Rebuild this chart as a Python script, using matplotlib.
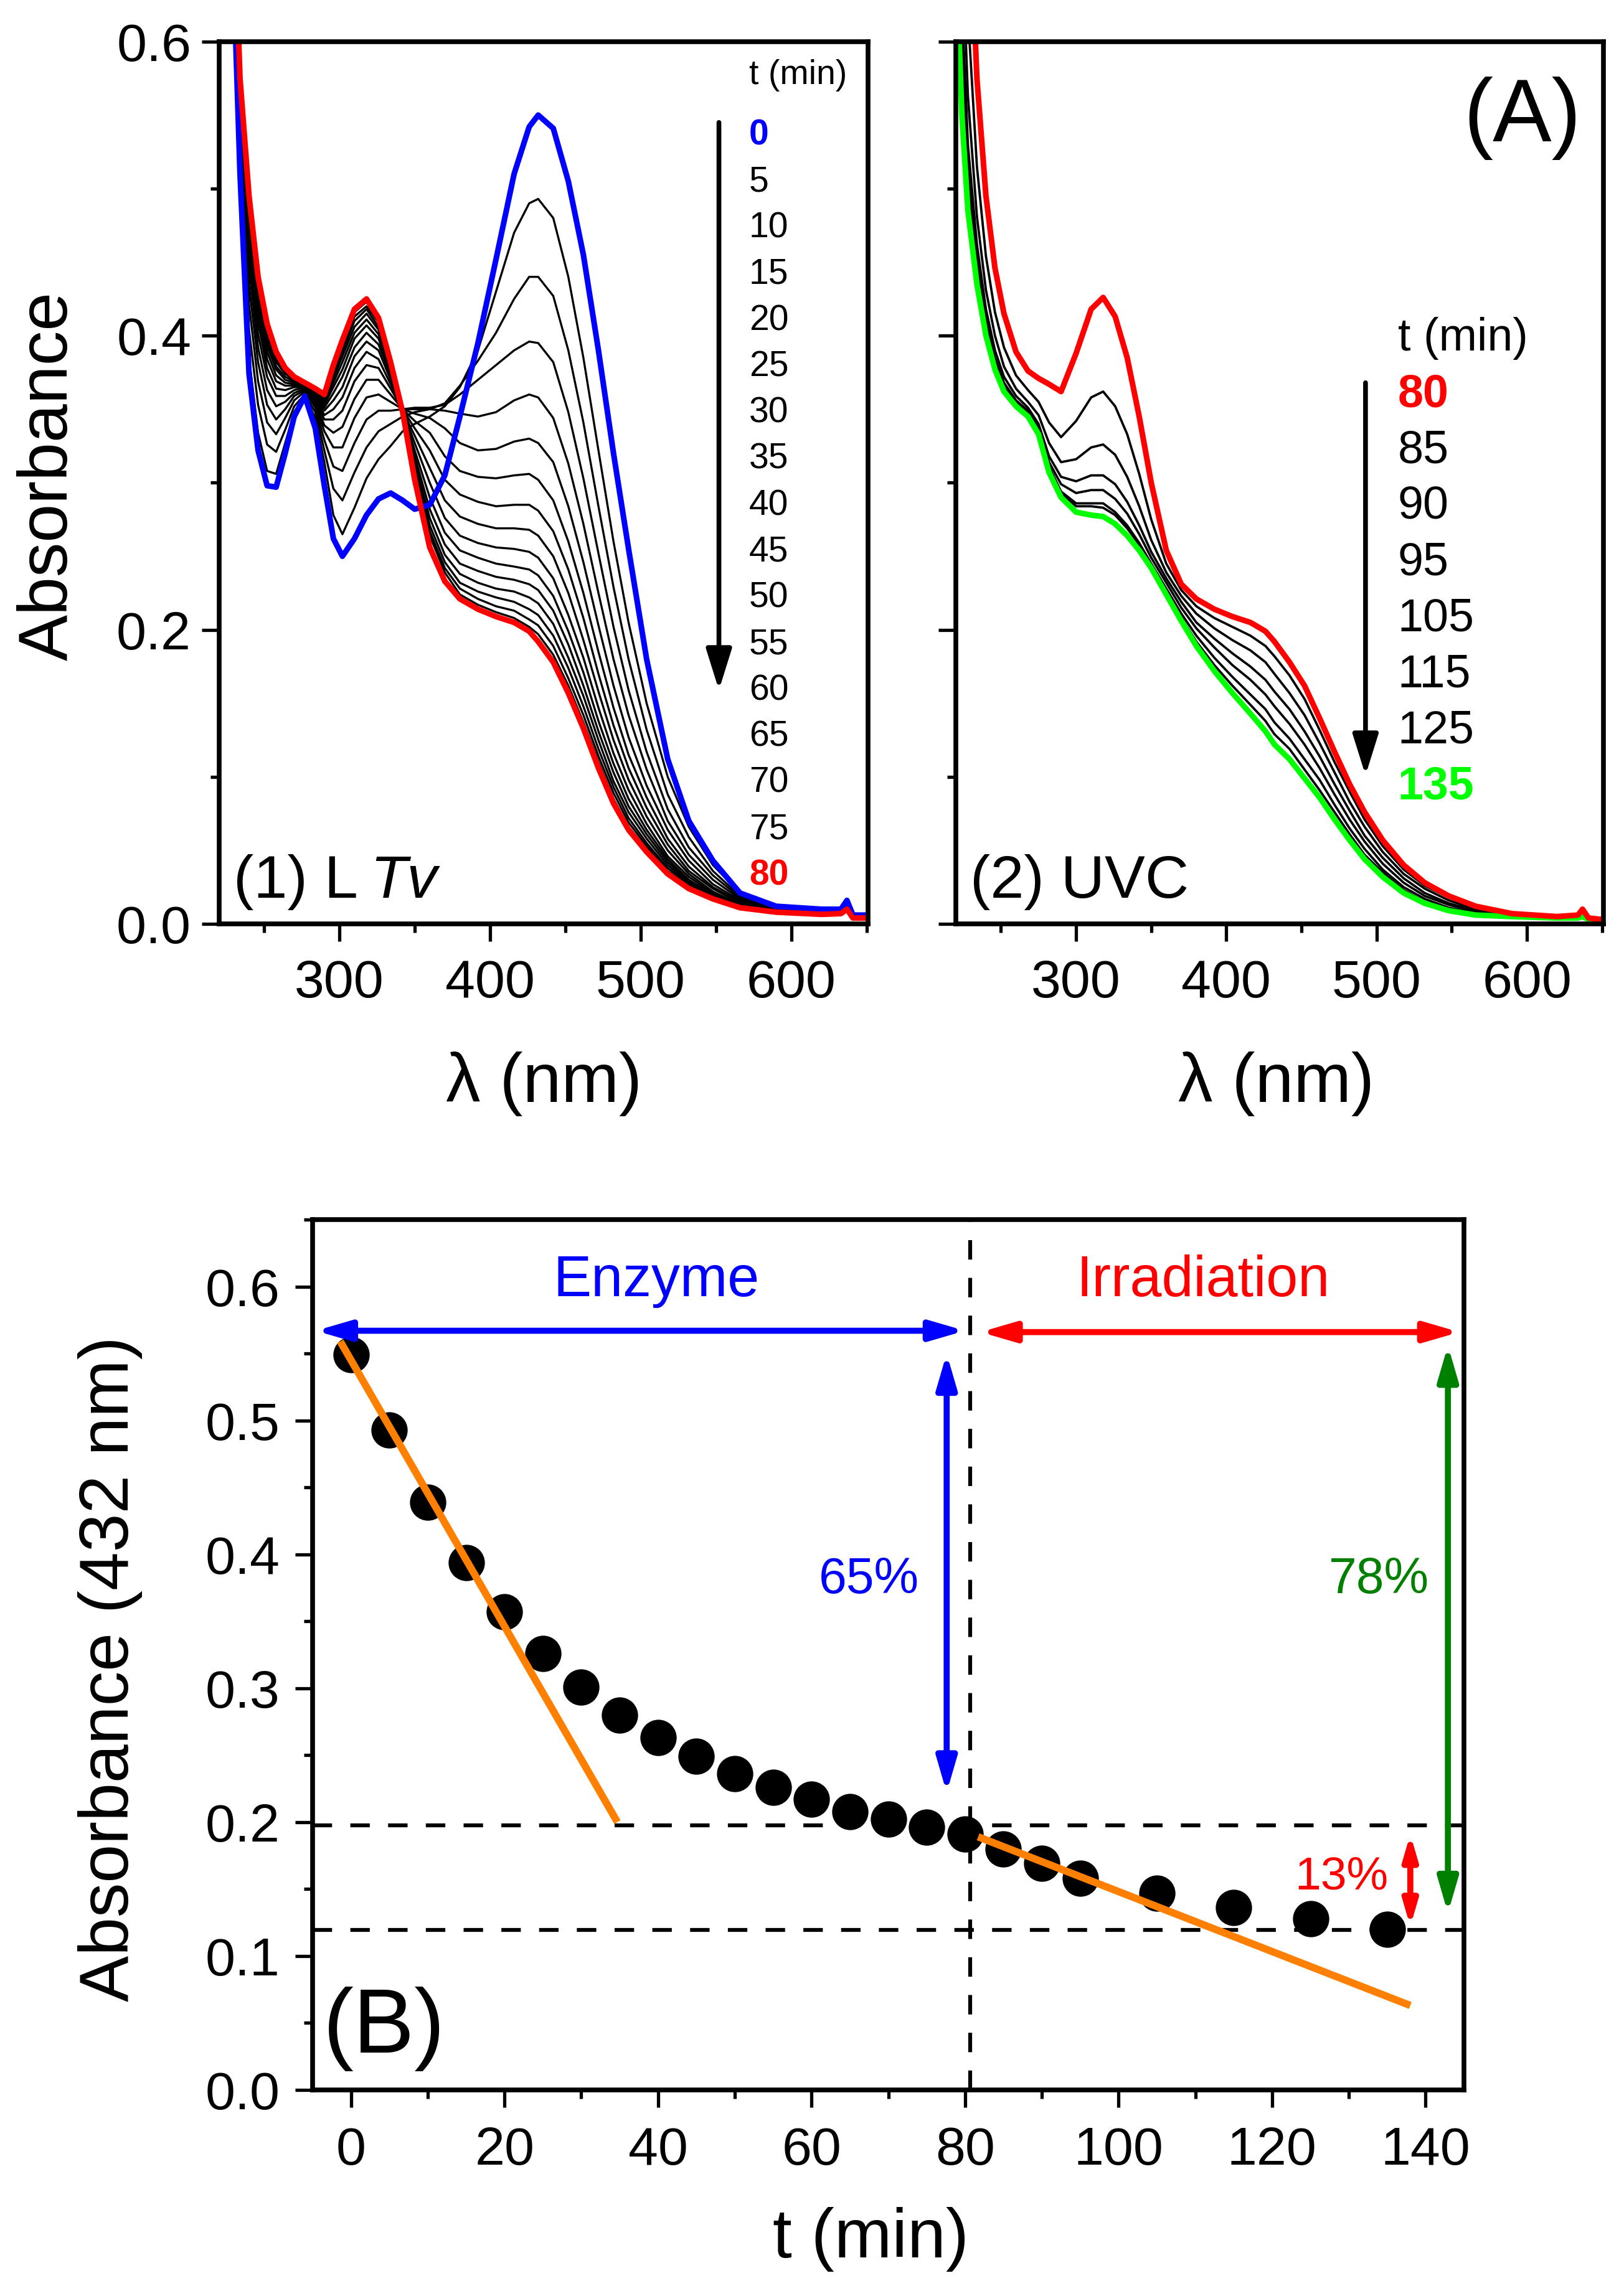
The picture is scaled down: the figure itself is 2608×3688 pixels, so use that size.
import matplotlib
matplotlib.use('Agg')
import matplotlib.pyplot as plt
from matplotlib.ticker import MultipleLocator, FormatStrFormatter

# ---------------- panel (1) LTv : spectra every 5 min, 0..80 min ----------------
wl_ltv = [228, 234, 240, 246, 252, 258, 264, 270, 277, 284, 290, 296, 302, 310, 318,
          326, 334, 342, 350, 360, 370, 380, 392, 404, 416, 426, 432, 442, 452, 462,
          472, 482, 492, 504, 518, 532, 548, 566, 590, 620, 633, 637, 641, 650]

ltv_0 = [0.70, 0.51, 0.374, 0.322, 0.298, 0.297, 0.320, 0.345, 0.359, 0.337, 0.298, 0.262,
         0.250, 0.262, 0.278, 0.289, 0.293, 0.288, 0.282, 0.285, 0.305, 0.345, 0.395, 0.452,
         0.510, 0.542, 0.550, 0.541, 0.505, 0.455, 0.390, 0.320, 0.255, 0.180, 0.112, 0.070,
         0.043, 0.021, 0.012, 0.010, 0.010, 0.016, 0.006, 0.006]
ltv_5 = [0.71, 0.52, 0.385, 0.334, 0.308, 0.306, 0.327, 0.348, 0.359, 0.344, 0.314, 0.278,
         0.265, 0.283, 0.303, 0.316, 0.325, 0.335, 0.340, 0.345, 0.352, 0.365, 0.390, 0.430,
         0.470, 0.490, 0.493, 0.480, 0.440, 0.385, 0.322, 0.260, 0.205, 0.150, 0.100, 0.066,
         0.040, 0.021, 0.012, 0.010, 0.010, 0.014, 0.006, 0.006]
ltv_10 = [0.715, 0.530, 0.404, 0.353, 0.326, 0.321, 0.336, 0.352, 0.360, 0.348, 0.322, 0.296,
          0.288, 0.307, 0.324, 0.335, 0.340, 0.345, 0.348, 0.350, 0.354, 0.366, 0.383, 0.402,
          0.425, 0.440, 0.440, 0.427, 0.390, 0.341, 0.284, 0.229, 0.180, 0.132, 0.088, 0.059,
          0.036, 0.019, 0.011, 0.0095, 0.010, 0.013, 0.005, 0.005]
ltv_15 = [0.72, 0.538, 0.421, 0.369, 0.341, 0.333, 0.344, 0.356, 0.362, 0.351, 0.329, 0.311,
          0.308, 0.327, 0.343, 0.349, 0.349, 0.350, 0.351, 0.351, 0.353, 0.360, 0.370, 0.380,
          0.390, 0.396, 0.395, 0.382, 0.348, 0.303, 0.252, 0.202, 0.159, 0.117, 0.078, 0.052,
          0.033, 0.018, 0.011, 0.009, 0.0095, 0.013, 0.005, 0.005]
ltv_20 = [0.72, 0.545, 0.434, 0.382, 0.353, 0.343, 0.350, 0.359, 0.363, 0.353, 0.335, 0.324,
          0.324, 0.344, 0.358, 0.360, 0.355, 0.350, 0.350, 0.350, 0.349, 0.347, 0.345, 0.348,
          0.356, 0.360, 0.358, 0.344, 0.313, 0.272, 0.225, 0.180, 0.142, 0.105, 0.070, 0.047,
          0.030, 0.017, 0.010, 0.0085, 0.009, 0.012, 0.005, 0.005]
ltv_25 = [0.725, 0.550, 0.446, 0.392, 0.363, 0.352, 0.355, 0.361, 0.364, 0.355, 0.339, 0.334,
          0.338, 0.357, 0.370, 0.370, 0.360, 0.350, 0.347, 0.344, 0.337, 0.327, 0.322, 0.323,
          0.328, 0.330, 0.327, 0.314, 0.284, 0.246, 0.203, 0.162, 0.127, 0.094, 0.064, 0.043,
          0.027, 0.016, 0.010, 0.008, 0.0085, 0.012, 0.005, 0.005]
ltv_30 = [0.725, 0.555, 0.455, 0.401, 0.372, 0.359, 0.359, 0.363, 0.365, 0.357, 0.343, 0.343,
          0.349, 0.369, 0.380, 0.378, 0.364, 0.350, 0.342, 0.334, 0.318, 0.308, 0.304, 0.303,
          0.305, 0.306, 0.302, 0.288, 0.260, 0.225, 0.185, 0.147, 0.115, 0.086, 0.058, 0.039,
          0.025, 0.015, 0.009, 0.008, 0.0085, 0.011, 0.005, 0.005]
ltv_35 = [0.73, 0.559, 0.462, 0.409, 0.378, 0.364, 0.363, 0.365, 0.365, 0.358, 0.346, 0.350,
          0.358, 0.378, 0.389, 0.384, 0.367, 0.350, 0.337, 0.322, 0.302, 0.292, 0.287, 0.284,
          0.285, 0.285, 0.281, 0.267, 0.241, 0.208, 0.170, 0.135, 0.106, 0.079, 0.054, 0.036,
          0.024, 0.014, 0.009, 0.0075, 0.008, 0.011, 0.005, 0.005]
ltv_40 = [0.73, 0.562, 0.469, 0.415, 0.384, 0.369, 0.366, 0.366, 0.366, 0.359, 0.349, 0.356,
          0.365, 0.386, 0.396, 0.390, 0.370, 0.349, 0.332, 0.310, 0.288, 0.277, 0.272, 0.269,
          0.269, 0.268, 0.264, 0.250, 0.225, 0.193, 0.158, 0.125, 0.098, 0.073, 0.050, 0.034,
          0.022, 0.013, 0.009, 0.0075, 0.008, 0.011, 0.005, 0.005]
ltv_45 = [0.735, 0.565, 0.474, 0.420, 0.389, 0.373, 0.368, 0.367, 0.366, 0.360, 0.351, 0.361,
          0.372, 0.392, 0.402, 0.394, 0.373, 0.349, 0.327, 0.300, 0.276, 0.264, 0.259, 0.256,
          0.255, 0.253, 0.249, 0.235, 0.210, 0.181, 0.147, 0.116, 0.091, 0.068, 0.046, 0.032,
          0.021, 0.013, 0.009, 0.007, 0.0075, 0.011, 0.005, 0.005]
ltv_50 = [0.735, 0.567, 0.479, 0.424, 0.393, 0.377, 0.370, 0.368, 0.367, 0.361, 0.353, 0.365,
          0.377, 0.398, 0.407, 0.398, 0.375, 0.349, 0.322, 0.290, 0.266, 0.254, 0.249, 0.245,
          0.243, 0.241, 0.237, 0.223, 0.199, 0.171, 0.138, 0.109, 0.085, 0.064, 0.044, 0.030,
          0.020, 0.013, 0.009, 0.007, 0.0075, 0.011, 0.005, 0.005]
ltv_55 = [0.74, 0.569, 0.482, 0.428, 0.396, 0.379, 0.372, 0.369, 0.367, 0.362, 0.355, 0.368,
          0.382, 0.402, 0.411, 0.401, 0.376, 0.349, 0.318, 0.282, 0.258, 0.245, 0.240, 0.236,
          0.234, 0.231, 0.227, 0.213, 0.190, 0.162, 0.131, 0.103, 0.080, 0.061, 0.042, 0.029,
          0.020, 0.012, 0.008, 0.007, 0.0075, 0.011, 0.005, 0.005]
ltv_60 = [0.74, 0.570, 0.486, 0.431, 0.399, 0.382, 0.374, 0.370, 0.367, 0.362, 0.356, 0.371,
          0.386, 0.406, 0.415, 0.404, 0.378, 0.349, 0.315, 0.276, 0.251, 0.238, 0.232, 0.228,
          0.226, 0.222, 0.218, 0.204, 0.181, 0.155, 0.125, 0.097, 0.076, 0.058, 0.040, 0.028,
          0.019, 0.012, 0.008, 0.007, 0.0075, 0.011, 0.005, 0.005]
ltv_65 = [0.745, 0.572, 0.488, 0.434, 0.402, 0.384, 0.375, 0.371, 0.367, 0.363, 0.357, 0.374,
          0.389, 0.410, 0.418, 0.406, 0.379, 0.349, 0.312, 0.271, 0.246, 0.232, 0.226, 0.222,
          0.219, 0.214, 0.210, 0.196, 0.174, 0.148, 0.119, 0.093, 0.072, 0.055, 0.038, 0.027,
          0.018, 0.012, 0.008, 0.0065, 0.007, 0.010, 0.005, 0.005]
ltv_70 = [0.745, 0.573, 0.491, 0.436, 0.404, 0.386, 0.376, 0.371, 0.368, 0.363, 0.358, 0.376,
          0.392, 0.413, 0.420, 0.409, 0.380, 0.348, 0.309, 0.267, 0.242, 0.228, 0.221, 0.216,
          0.213, 0.207, 0.203, 0.189, 0.167, 0.142, 0.114, 0.089, 0.069, 0.053, 0.036, 0.026,
          0.018, 0.011, 0.008, 0.0065, 0.007, 0.010, 0.004, 0.004]
ltv_75 = [0.75, 0.574, 0.493, 0.438, 0.406, 0.388, 0.377, 0.372, 0.368, 0.364, 0.359, 0.378,
          0.395, 0.416, 0.423, 0.410, 0.381, 0.348, 0.307, 0.264, 0.239, 0.224, 0.217, 0.212,
          0.208, 0.202, 0.197, 0.183, 0.162, 0.137, 0.110, 0.085, 0.066, 0.051, 0.035, 0.025,
          0.017, 0.011, 0.008, 0.0065, 0.007, 0.010, 0.004, 0.004]
ltv_80 = [0.75, 0.575, 0.495, 0.440, 0.408, 0.389, 0.378, 0.372, 0.368, 0.364, 0.360, 0.380,
          0.397, 0.418, 0.425, 0.412, 0.382, 0.348, 0.302, 0.256, 0.233, 0.221, 0.214, 0.209,
          0.205, 0.199, 0.192, 0.178, 0.157, 0.133, 0.106, 0.082, 0.064, 0.049, 0.034, 0.024,
          0.017, 0.011, 0.008, 0.0065, 0.007, 0.010, 0.004, 0.004]

ltv_mid = [ltv_5, ltv_10, ltv_15, ltv_20, ltv_25, ltv_30, ltv_35, ltv_40, ltv_45,
           ltv_50, ltv_55, ltv_60, ltv_65, ltv_70, ltv_75]
ltv_times = ['0', '5', '10', '15', '20', '25', '30', '35', '40', '45', '50', '55',
             '60', '65', '70', '75', '80']

# ---------------- panel (2) UVC : 80..135 min ----------------
wl_uvc = [220, 224, 228, 234, 240, 246, 252, 260, 268, 275, 282, 290, 300, 310, 318,
          326, 334, 342, 350, 360, 370, 380, 392, 404, 416, 426, 432, 442, 452, 462,
          472, 482, 492, 504, 518, 532, 548, 566, 590, 620, 634, 637, 641, 650]

uvc_80 = [1.10, 0.90, 0.72, 0.575, 0.495, 0.446, 0.415, 0.389, 0.376, 0.371, 0.367, 0.362,
          0.388, 0.418, 0.426, 0.413, 0.385, 0.345, 0.300, 0.254, 0.231, 0.221, 0.214, 0.209,
          0.205, 0.199, 0.192, 0.178, 0.162, 0.140, 0.117, 0.095, 0.076, 0.057, 0.040, 0.028,
          0.019, 0.012, 0.007, 0.005, 0.006, 0.010, 0.004, 0.003]
uvc_85 = [0.911, 0.754, 0.619, 0.515, 0.454, 0.416, 0.392, 0.373, 0.363, 0.355, 0.341, 0.331,
          0.342, 0.358, 0.362, 0.352, 0.333, 0.306, 0.275, 0.245, 0.227, 0.216, 0.208, 0.202,
          0.196, 0.189, 0.182, 0.169, 0.153, 0.132, 0.110, 0.090, 0.071, 0.053, 0.037, 0.026,
          0.018, 0.011, 0.007, 0.005, 0.005, 0.008, 0.004, 0.003]
uvc_90 = [0.805, 0.672, 0.563, 0.481, 0.431, 0.400, 0.379, 0.364, 0.355, 0.346, 0.327, 0.314,
          0.316, 0.324, 0.326, 0.319, 0.304, 0.284, 0.261, 0.239, 0.223, 0.211, 0.201, 0.193,
          0.186, 0.178, 0.170, 0.157, 0.142, 0.123, 0.103, 0.083, 0.066, 0.049, 0.034, 0.024,
          0.016, 0.010, 0.006, 0.005, 0.005, 0.007, 0.004, 0.003]
uvc_95 = [0.744, 0.625, 0.530, 0.462, 0.418, 0.390, 0.372, 0.359, 0.351, 0.340, 0.318, 0.304,
          0.301, 0.305, 0.305, 0.299, 0.287, 0.271, 0.253, 0.235, 0.219, 0.205, 0.194, 0.184,
          0.175, 0.166, 0.158, 0.146, 0.131, 0.114, 0.095, 0.077, 0.060, 0.045, 0.031, 0.021,
          0.014, 0.009, 0.006, 0.005, 0.005, 0.006, 0.004, 0.003]
uvc_105 = [0.713, 0.601, 0.513, 0.452, 0.411, 0.385, 0.368, 0.356, 0.349, 0.338, 0.314, 0.299,
           0.293, 0.295, 0.295, 0.289, 0.279, 0.265, 0.249, 0.232, 0.215, 0.201, 0.188, 0.176,
           0.166, 0.156, 0.148, 0.136, 0.122, 0.106, 0.088, 0.071, 0.056, 0.041, 0.028, 0.019,
           0.013, 0.008, 0.006, 0.004, 0.004, 0.006, 0.004, 0.003]
uvc_115 = [0.686, 0.580, 0.499, 0.443, 0.406, 0.381, 0.365, 0.354, 0.347, 0.335, 0.311, 0.294,
           0.286, 0.286, 0.286, 0.280, 0.271, 0.259, 0.245, 0.228, 0.211, 0.196, 0.181, 0.168,
           0.156, 0.146, 0.137, 0.126, 0.112, 0.098, 0.081, 0.065, 0.051, 0.037, 0.025, 0.017,
           0.011, 0.007, 0.005, 0.004, 0.004, 0.005, 0.003, 0.003]
uvc_125 = [0.678, 0.574, 0.494, 0.441, 0.404, 0.380, 0.364, 0.353, 0.346, 0.335, 0.309, 0.293,
           0.284, 0.284, 0.283, 0.278, 0.269, 0.258, 0.244, 0.226, 0.208, 0.192, 0.176, 0.162,
           0.149, 0.138, 0.129, 0.119, 0.105, 0.091, 0.076, 0.061, 0.047, 0.035, 0.023, 0.015,
           0.010, 0.007, 0.005, 0.004, 0.004, 0.005, 0.003, 0.003]
uvc_135 = [0.66, 0.55, 0.485, 0.435, 0.400, 0.377, 0.362, 0.352, 0.345, 0.333, 0.307, 0.290,
           0.280, 0.278, 0.277, 0.272, 0.264, 0.254, 0.242, 0.224, 0.206, 0.189, 0.172, 0.157,
           0.143, 0.131, 0.122, 0.112, 0.099, 0.086, 0.071, 0.057, 0.044, 0.032, 0.021, 0.014,
           0.009, 0.006, 0.005, 0.004, 0.004, 0.005, 0.003, 0.003]

uvc_mid = [uvc_85, uvc_90, uvc_95, uvc_105, uvc_115, uvc_125]
uvc_times = ['80', '85', '90', '95', '105', '115', '125', '135']

# ---------------- panel (B) : absorbance at 432 nm vs time ----------------
kin_t = [0, 5, 10, 15, 20, 25, 30, 35, 40, 45, 50, 55, 60, 65, 70, 75, 80,
         85, 90, 95, 105, 115, 125, 135]
kin_abs = [0.549, 0.493, 0.439, 0.394, 0.357, 0.326, 0.301, 0.280, 0.263, 0.249, 0.236,
           0.226, 0.217, 0.208, 0.202, 0.196, 0.191, 0.180, 0.169, 0.158, 0.147, 0.136,
           0.128, 0.120]
fit_enz_t = [-1.4, 34.7]
fit_enz_abs = [0.559, 0.200]
fit_irr_t = [81.7, 138.0]
fit_irr_abs = [0.189, 0.063]
level_enz = 0.1977
level_irr = 0.1195
t_switch = 80.7

SANS = ['Liberation Sans', 'DejaVu Sans']
NARROW = ['Liberation Sans Narrow', 'Liberation Sans', 'DejaVu Sans']
plt.rcParams['font.family'] = SANS

BLUE = '#0000FF'
RED = '#FF0000'
LIME = '#00FF00'
DKGREEN = '#008000'
ORANGE = '#FF8000'


def style_axes(ax, lab_size, narrow=False):
    for s in ax.spines.values():
        s.set_linewidth(5.5)
    ax.tick_params(which='major', direction='out', length=20, width=3.8,
                   labelsize=lab_size, top=False, right=False)
    ax.tick_params(which='minor', direction='out', length=10, width=3.8,
                   top=False, right=False)
    if narrow:
        for lab in ax.get_xticklabels() + ax.get_yticklabels():
            lab.set_family(NARROW)


fig = plt.figure(figsize=(26.08, 36.88), dpi=100)
fig.patch.set_facecolor('white')

ax1 = fig.add_axes([0.1348, 0.5976, 0.3997, 0.3843])
ax2 = fig.add_axes([0.5886, 0.5976, 0.3988, 0.3843])
ax3 = fig.add_axes([0.1925, 0.0898, 0.7090, 0.3790])

# ---- panel (1) ----
for curve in ltv_mid:
    ax1.plot(wl_ltv, curve, color='black', lw=2.4, solid_joinstyle='round')
ax1.plot(wl_ltv, ltv_0, color=BLUE, lw=6.5, solid_joinstyle='round')
ax1.plot(wl_ltv, ltv_80, color=RED, lw=6.5, solid_joinstyle='round')

# ---- panel (2) ----
for curve in uvc_mid:
    ax2.plot(wl_uvc, curve, color='black', lw=2.7, solid_joinstyle='round')
ax2.plot(wl_uvc, uvc_135, color=LIME, lw=6.5, solid_joinstyle='round')
ax2.plot(wl_uvc, uvc_80, color=RED, lw=6.5, solid_joinstyle='round')

for ax in (ax1, ax2):
    ax.set_xlim(220, 651)
    ax.set_ylim(0, 0.6)
    ax.xaxis.set_major_locator(MultipleLocator(100))
    ax.xaxis.set_minor_locator(MultipleLocator(50))
    ax.yaxis.set_major_locator(MultipleLocator(0.2))
    ax.yaxis.set_minor_locator(MultipleLocator(0.1))
    ax.yaxis.set_major_formatter(FormatStrFormatter('%.1f'))
    style_axes(ax, 62)
    ax.tick_params(axis='x', which='major', pad=20)
    ax.tick_params(axis='y', which='major', pad=12)
    ax.set_xlabel('λ (nm)', fontsize=80)
    ax.xaxis.label.set_va('center')
ax2.tick_params(axis='y', labelleft=False)
ax1.xaxis.set_label_coords(0.501, -0.181)
ax2.xaxis.set_label_coords(0.495, -0.181)
ax1.set_ylabel('Absorbance', fontsize=80)
ax1.yaxis.label.set_va('center')
ax1.yaxis.set_label_coords(-0.262, 0.508)

# legend-like time lists
ax1.text(572, 0.577, 't (min)', fontsize=40, ha='left', va='center')
for i, lab in enumerate(ltv_times):
    col, wt = 'black', 'normal'
    if i == 0:
        col, wt = BLUE, 'bold'
    elif i == len(ltv_times) - 1:
        col, wt = RED, 'bold'
    ax1.text(572, 0.536 - 0.03145 * i, lab, fontsize=41, ha='left', va='center',
             color=col, fontweight=wt)
head = '-|>,head_length=0.8,head_width=0.25'
ax1.annotate('', xy=(552, 0.159), xytext=(552, 0.545),
             arrowprops=dict(arrowstyle=head, color='black', lw=5.5, mutation_scale=50,
                             shrinkA=0, shrinkB=0))

ax2.text(514, 0.398, 't (min)', fontsize=53, ha='left', va='center')
for i, lab in enumerate(uvc_times):
    col, wt = 'black', 'normal'
    if i == 0:
        col, wt = RED, 'bold'
    elif i == len(uvc_times) - 1:
        col, wt = LIME, 'bold'
    ax2.text(514, 0.360 - 0.0381 * i, lab, fontsize=53, ha='left', va='center',
             color=col, fontweight=wt)
ax2.annotate('', xy=(492.6, 0.101), xytext=(492.6, 0.368),
             arrowprops=dict(arrowstyle=head, color='black', lw=5.5, mutation_scale=50,
                             shrinkA=0, shrinkB=0))

t1 = ax1.text(229.7, 0.018, '(1) L', fontsize=70, ha='left', va='baseline')
ax1.annotate('Tv', xy=(1, 0), xycoords=t1, xytext=(14, 0), textcoords='offset points',
             fontsize=70, fontstyle='italic', ha='left', va='bottom')
ax2.text(229.5, 0.018, '(2) UVC', fontsize=70, ha='left', va='baseline')
ax2.text(597, 0.548, '(A)', fontsize=102, ha='center', va='center')

# ---- panel (B) ----
ax3.set_xlim(-5, 145)
ax3.set_ylim(0, 0.65)
ax3.xaxis.set_major_locator(MultipleLocator(20))
ax3.xaxis.set_minor_locator(MultipleLocator(10))
ax3.yaxis.set_major_locator(MultipleLocator(0.1))
ax3.yaxis.set_minor_locator(MultipleLocator(0.05))
ax3.yaxis.set_major_formatter(FormatStrFormatter('%.1f'))
style_axes(ax3, 62, narrow=True)
ax3.tick_params(axis='x', which='major', pad=22)
ax3.tick_params(axis='y', which='major', pad=18)

dash = (0, (5, 4.7))
ax3.axhline(level_enz, color='black', lw=4.5, linestyle=dash, zorder=1)
ax3.axhline(level_irr, color='black', lw=4.5, linestyle=dash, zorder=1)
ax3.axvline(t_switch, color='black', lw=4.5, linestyle=dash, zorder=1)

ax3.plot(kin_t, kin_abs, 'o', color='black', markersize=41, zorder=2)
ax3.plot(fit_enz_t, fit_enz_abs, color=ORANGE, lw=8.5, solid_capstyle='butt', zorder=3)
ax3.plot(fit_irr_t, fit_irr_abs, color=ORANGE, lw=8.5, solid_capstyle='butt', zorder=3)


def double_arrow(p0, p1, col, scale=60):
    ax3.annotate('', xy=p1, xytext=p0,
                 arrowprops=dict(arrowstyle='<|-|>,head_length=0.55,head_width=0.16',
                                 color=col, lw=7, mutation_scale=scale,
                                 shrinkA=0, shrinkB=0), zorder=4)


double_arrow((-4.6, 0.567), (80.0, 0.567), BLUE)
double_arrow((82.0, 0.566), (144.4, 0.566), RED)
double_arrow((77.6, 0.550), (77.6, 0.222), BLUE)
double_arrow((142.9, 0.556), (142.9, 0.132), DKGREEN)
double_arrow((138.0, 0.191), (138.0, 0.122), RED, scale=42)

ax3.text(39.8, 0.604, 'Enzyme', fontsize=66, color=BLUE, ha='center', va='center',
         family=NARROW)
ax3.text(111.0, 0.604, 'Irradiation', fontsize=66, color=RED, ha='center', va='center',
         family=NARROW)
ax3.text(67.5, 0.381, '65%', fontsize=58, color=BLUE, ha='center', va='center',
         family=NARROW)
ax3.text(133.9, 0.381, '78%', fontsize=58, color=DKGREEN, ha='center', va='center',
         family=NARROW)
ax3.text(129.0, 0.159, '13%', fontsize=54, color=RED, ha='center', va='center',
         family=NARROW)
ax3.text(4.3, 0.0455, '(B)', fontsize=106, color='black', ha='center', va='center',
         family=NARROW)

ax3.set_xlabel('t (min)', fontsize=80, family=NARROW)
ax3.xaxis.label.set_va('center')
ax3.xaxis.set_label_coords(0.485, -0.172)
ax3.set_ylabel('Absorbance (432 nm)', fontsize=80)
ax3.yaxis.label.set_va('center')
ax3.yaxis.set_label_coords(-0.176, 0.484)

fig.savefig('out.png', dpi=100, facecolor='white')
